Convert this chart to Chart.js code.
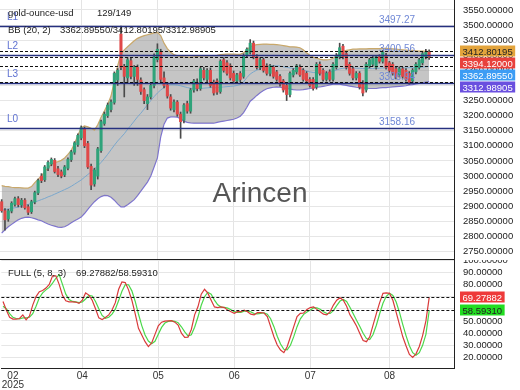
<!DOCTYPE html>
<html><head><meta charset="utf-8">
<script src="https://cdn.jsdelivr.net/npm/chart.js@4.4.1/dist/chart.umd.min.js"></script>
<style>
body{margin:0;background:#fff;width:520px;height:390px;overflow:hidden;position:relative;font-family:"Liberation Sans",Arial,sans-serif;}
#c1{position:absolute;left:0;top:0;}
#c2{position:absolute;left:0;top:260px;}
.t{position:absolute;font-size:9.5px;line-height:11px;color:#222;white-space:pre;}
#wm{position:absolute;left:0;width:520px;text-align:center;top:179px;font-size:28px;line-height:28px;color:#555;}
</style></head><body>
<canvas id="c1" width="520" height="260"></canvas>
<canvas id="c2" width="520" height="130"></canvas>
<div class="t" style="left:8px;top:7px">gold-ounce-usd</div>
<div class="t" style="left:97px;top:7px">129/149</div>
<div class="t" style="left:8px;top:24px">BB (20, 2)</div>
<div class="t" id="bbv" style="left:60px;top:24px"></div>
<div class="t" style="left:8px;top:267px">FULL (5, 8, 3)</div>
<div class="t" id="stv" style="left:76px;top:267px"></div>
<div id="wm">Arincen</div>
<script>
const SLOTS = 137;
const monthIdx = [3, 24, 47, 70, 93, 117];
const monthText = [['02','2025'], '04', '05', '06', '07', '08'];

const open = [2915,2885,2858,2884,2906,2925,2904,2920,2898,2882,
 2914,2944,3000,2988,3026,3040,3052,3024,3014,3004,
 3026,3054,3079,3104,3126,3156,3108,3032,2974,3000,
 3084,3174,3200,3220,3244,3318,3470,3362,3325,3382,
 3330,3360,3318,3286,3240,3262,3300,3386,3412,3325,
 3302,3262,3220,3245,3205,3185,3240,3215,3285,3310,
 3290,3350,3320,3350,3310,3315,3280,3385,3375,3365,
 3340,3315,3340,3330,3400,3410,3440,3395,3360,3385,
 3365,3340,3360,3345,3330,3315,3300,3270,3335,3345,
 3360,3350,3340,3320,3320,3295,3370,3350,3320,3345,
 3320,3360,3395,3430,3405,3370,3355,3325,3340,3310,
 3285,3365,3370,3360,3395,3380,3400,3375,3370,3355,
 3335,3355,3350,3340,3315,3345,3360,3375,3395,3410];
const high = [2922,2892,2890,2915,2930,2932,2926,2925,2905,2920,
 2950,2990,3008,3035,3050,3060,3058,3032,3020,3035,
 3060,3085,3114,3140,3166,3162,3115,3040,3026,3095,
 3185,3212,3242,3252,3345,3356,3497,3370,3392,3392,
 3366,3368,3325,3292,3270,3306,3405,3438,3420,3345,
 3310,3270,3252,3250,3212,3240,3248,3290,3320,3322,
 3362,3360,3356,3358,3318,3322,3385,3392,3382,3372,
 3348,3340,3346,3405,3425,3452,3447,3402,3392,3391,
 3372,3370,3366,3350,3336,3320,3306,3345,3356,3370,
 3368,3356,3346,3326,3326,3376,3378,3356,3346,3352,
 3376,3406,3440,3436,3412,3376,3362,3346,3346,3316,
 3376,3390,3396,3400,3402,3416,3406,3380,3376,3360,
 3362,3360,3356,3346,3356,3376,3390,3410,3420,3418];
const low = [2880,2821,2850,2878,2900,2898,2896,2890,2872,2876,
 2908,2938,2978,2982,3018,3034,3010,2998,2994,2998,
 3020,3048,3072,3098,3120,3094,3025,2955,2966,2990,
 3078,3168,3194,3212,3238,3300,3352,3262,3310,3322,
 3300,3300,3270,3240,3220,3255,3292,3378,3312,3292,
 3258,3218,3212,3198,3125,3176,3208,3208,3278,3282,
 3284,3318,3312,3294,3268,3270,3274,3344,3334,3318,
 3308,3306,3312,3324,3394,3404,3388,3354,3352,3344,
 3334,3332,3324,3314,3298,3278,3250,3262,3328,3338,
 3330,3314,3308,3294,3284,3288,3334,3314,3314,3314,
 3314,3354,3388,3388,3354,3334,3318,3318,3288,3265,
 3278,3358,3364,3354,3374,3374,3354,3344,3334,3322,
 3328,3324,3314,3304,3308,3338,3354,3368,3388,3386];
const close = [2885,2855,2885,2910,2925,2905,2920,2895,2880,2915,
 2945,2985,2985,3030,3045,3055,3015,3005,3000,3030,
 3055,3080,3110,3135,3160,3100,3030,2970,3020,3090,
 3180,3205,3235,3245,3340,3350,3360,3330,3385,3330,
 3360,3320,3280,3250,3262,3300,3395,3420,3320,3300,
 3265,3225,3245,3205,3180,3235,3215,3285,3315,3290,
 3355,3325,3350,3300,3275,3278,3380,3350,3340,3325,
 3315,3335,3320,3400,3420,3440,3395,3360,3385,3350,
 3340,3365,3330,3320,3305,3285,3270,3340,3350,3365,
 3335,3320,3315,3300,3290,3370,3340,3320,3340,3320,
 3370,3400,3425,3395,3360,3340,3325,3340,3295,3275,
 3370,3385,3390,3395,3380,3410,3360,3350,3340,3328,
 3355,3330,3320,3310,3350,3370,3385,3405,3410,3394.12];

const bbUpper = [2968,2966,2965,2963,2962,2962,2961,2960,2960,2965,
 2978,2990,3000,3015,3028,3038,3045,3048,3052,3060,
 3072,3085,3108,3135,3160,3166,3163,3158,3152,3170,
 3195,3215,3238,3265,3315,3365,3405,3418,3428,3438,
 3448,3456,3461,3465,3468,3471,3474,3476,3465,3440,
 3422,3410,3402,3398,3396,3395,3394,3394,3395,3396,
 3397,3398,3398,3399,3399,3400,3402,3403,3404,3404,
 3404,3403,3403,3408,3418,3428,3433,3435,3436,3437,
 3437,3436,3436,3435,3434,3432,3430,3428,3428,3427,
 3425,3418,3408,3400,3394,3390,3387,3385,3385,3386,
 3390,3398,3406,3412,3416,3418,3420,3420,3421,3421,
 3421,3422,3422,3422,3422,3423,3423,3422,3421,3420,
 3419,3418,3417,3416,3416,3415,3414,3414,3413,3412.80195];
const bbMid = [2887,2889,2891,2893,2895,2897,2900,2903,2906,2910,
 2914,2918,2922,2926,2931,2935,2940,2945,2950,2955,
 2960,2966,2973,2980,2987,2996,3005,3014,3024,3034,
 3045,3058,3072,3087,3102,3116,3128,3140,3155,3168,
 3182,3196,3208,3222,3236,3250,3263,3275,3285,3293,
 3300,3302,3302,3301,3299,3296,3293,3291,3290,3290,
 3290,3291,3292,3293,3292,3293,3294,3295,3296,3297,
 3298,3300,3303,3312,3326,3338,3345,3351,3356,3360,
 3363,3364,3365,3365,3364,3362,3360,3358,3357,3356,
 3355,3352,3348,3345,3343,3342,3341,3341,3342,3344,
 3347,3351,3355,3357,3358,3358,3358,3357,3357,3356,
 3356,3356,3356,3356,3357,3358,3358,3358,3358,3358,
 3358,3358,3358,3359,3359,3360,3361,3361,3362,3362.8955];
const bbLower = [2811,2822,2832,2840,2848,2855,2860,2863,2864,2862,
 2859,2855,2852,2846,2841,2837,2834,2831,2830,2832,
 2838,2845,2852,2858,2864,2876,2890,2903,2915,2925,
 2932,2936,2935,2930,2920,2908,2898,2898,2905,2913,
 2922,2935,2950,2965,2980,3000,3030,3060,3130,3172,
 3192,3196,3196,3195,3190,3182,3178,3176,3175,3175,
 3175,3175,3175,3175,3175,3178,3180,3182,3184,3186,
 3188,3192,3198,3210,3228,3248,3257,3267,3276,3283,
 3289,3292,3294,3295,3294,3292,3290,3288,3286,3285,
 3285,3286,3288,3290,3292,3294,3295,3297,3299,3302,
 3304,3304,3304,3302,3300,3298,3296,3294,3293,3291,
 3291,3290,3290,3290,3292,3293,3293,3294,3295,3296,
 3297,3298,3299,3302,3303,3305,3307,3309,3311,3312.98905];

const stochK = [66,59,53,51.5,51.5,52,55,51,54,63,
 70,74,75,77,80,87,87,80,71,66.5,
 65.7,65.7,65.5,64.4,67,73,71.2,67,60,52.5,
 51.2,52.8,55,59,65,76,82,81.5,75.5,67,
 56,44,38.5,33,29,32,39,46,49,49.8,
 50,50.2,49,46.6,40,36.5,36.6,43,55,61.6,
 72,76,72.8,67,61.5,61,61.6,61,58.9,57.6,
 56.2,57.6,57.6,58.9,57.6,55.6,55,56.8,56.8,56.5,
 53.5,45.3,37,30.2,26.1,24,28.9,37,45.3,53.5,
 56.2,56.5,59.5,61,61.6,59.5,57.6,55.6,55,57.6,
 63,67,69,67,62,55,50.7,45.8,39.8,34,
 33,37,46.6,56,65,72.6,73,72.6,67,57,
 47,37,29.5,22.5,20,23,29,38,50,69.27882];
const stochD = [62,60,56,53,52,51.6,52.5,52.5,53,56,
 62,69,73,75.5,77.5,81,85,88,80,72,
 67.5,66,65.6,65,65.5,68,71,70.5,66,60,
 54.5,52.2,53,55.6,59.7,66.7,74.3,79.8,79.7,74.7,
 66.2,55.7,46.2,38.5,33.5,31.3,33.3,39,44.7,48.3,
 49.6,50,49.7,48.6,45.2,41,37.7,38.7,44.9,53.2,
 62.9,69.9,73.6,71.9,67.1,63.2,61.4,61.2,60.5,59.2,
 57.6,57.1,57.1,58,58,57.4,56.1,55.8,56.2,56.7,
 55.6,51.8,45.3,37.5,31.1,26.8,26.3,30,37.1,45.3,
 51.7,55.4,57.4,59,60.7,60.7,59.6,57.6,56.1,56.1,
 58.5,62.5,66.3,67.7,66,61.3,55.9,50.5,45.4,39.9,
 35.6,34.7,38.9,46.5,55.9,64.5,70.2,72.7,70.9,65.5,
 57,47,37.8,29.7,24,21.8,24,30,39,58.5931];

const levelNames = ['L1', 'L2', 'L3', 'L0'];
const levelValues = [3497.27, 3400.56, 3306.94, 3158.16];
const priceTicks = [2750,2800,2850,2900,2950,3000,3050,3100,3150,3200,3250,3300,3350,3400,3450,3500,3550];
const oscTicks = [20,30,40,50,60,70,80,90,100];

const FONT = '"Liberation Sans", Arial, sans-serif';
const N = close.length;
const last = N - 1;

document.getElementById('bbv').textContent =
  bbMid[last].toFixed(5) + '/' + bbUpper[last].toFixed(5) + '/' + bbLower[last].toFixed(5);
document.getElementById('stv').textContent =
  stochK[last].toFixed(5) + '/' + stochD[last].toFixed(5);

const labels = [];
for (let i = 0; i < SLOTS; i++) labels.push('');
monthIdx.forEach((ix, k) => { labels[ix] = monthText[k]; });

const wicks = low.map((l, i) => [l, high[i]]);
const bodies = open.map((o, i) => [Math.min(o, close[i]), Math.max(o, close[i])]);
const bodyColors = open.map((o, i) => close[i] >= o ? '#2fa37a' : '#e04848');

const gridX = (ctx) => {
  const k = monthIdx.indexOf(ctx.index);
  return k > 0 ? '#e4e4e4' : 'rgba(0,0,0,0)';
};

function tagsPlugin(items) {
  return {
    id: 'tags',
    afterDraw(chart) {
      const ys = chart.scales.y, ctx = chart.ctx;
      const list = items.map(it => Object.assign({}, it, { py: ys.getPixelForValue(it.v) }))
        .sort((a, b) => a.py - b.py);
      let prev = -1e9;
      list.forEach(it => { if (it.py < prev + 12) it.py = prev + 12; prev = it.py; });
      ctx.save();
      ctx.font = '9.5px ' + FONT;
      ctx.textBaseline = 'middle';
      list.forEach(it => {
        const txt = it.v.toFixed(5);
        const w = ctx.measureText(txt).width;
        ctx.fillStyle = it.bg;
        ctx.fillRect(460, Math.round(it.py) - 5.5, w + 5, 11);
        ctx.fillStyle = it.fg;
        ctx.fillText(txt, 462.5, it.py + 0.5);
      });
      ctx.restore();
    }
  };
}

function linesPlugin(dashVals, withLevels, drawBottom) {
  return {
    id: 'hlines',
    afterDatasetsDraw(chart) {
      const ys = chart.scales.y, ctx = chart.ctx, a = chart.chartArea;
      ctx.save();
      if (withLevels) {
        levelValues.forEach((v, k) => {
          const py = Math.round(ys.getPixelForValue(v)) + 0.5;
          ctx.strokeStyle = '#26307f';
          ctx.lineWidth = 1.3;
          ctx.setLineDash([]);
          ctx.beginPath(); ctx.moveTo(a.left, py); ctx.lineTo(a.right, py); ctx.stroke();
          ctx.font = '10px ' + FONT;
          ctx.textBaseline = 'middle';
          ctx.fillStyle = '#5f72d2';
          ctx.textAlign = 'left';
          ctx.fillText(levelNames[k], 7, py - 9);
          ctx.fillStyle = '#7088d6';
          ctx.textAlign = 'center';
          ctx.fillText(v.toFixed(2), 397, py - 6);
        });
      }
      ctx.strokeStyle = '#111';
      ctx.lineWidth = 1;
      ctx.setLineDash([3, 2]);
      dashVals.forEach(v => {
        const py = Math.round(ys.getPixelForValue(v)) + 0.5;
        ctx.beginPath(); ctx.moveTo(a.left, py); ctx.lineTo(a.right, py); ctx.stroke();
      });
      ctx.setLineDash([]);
      if (drawBottom) {
        ctx.strokeStyle = '#222';
        ctx.beginPath(); ctx.moveTo(a.left, a.bottom - 0.5); ctx.lineTo(a.right, a.bottom - 0.5); ctx.stroke();
      }
      ctx.restore();
    }
  };
}

const yFit = (s) => { s.width = 66; s.paddingTop = 0; s.paddingBottom = 0; };

new Chart(document.getElementById('c1'), {
  type: 'bar',
  data: {
    labels: labels,
    datasets: [
      { type: 'line', data: bbUpper, borderColor: '#c9a86a', borderWidth: 1.2, pointRadius: 0,
        fill: '+1', backgroundColor: 'rgba(140,140,140,0.5)', order: 5 },
      { type: 'line', data: bbLower, borderColor: '#7b6fe0', borderWidth: 1.2, pointRadius: 0,
        fill: false, order: 5 },
      { type: 'line', data: bbMid, borderColor: '#7aa7cc', borderWidth: 1, pointRadius: 0,
        fill: false, order: 4 },
      { type: 'bar', data: wicks, backgroundColor: '#4a4a4a', barThickness: 1, grouped: false, order: 2 },
      { type: 'bar', data: bodies, backgroundColor: bodyColors, barThickness: 2.4, grouped: false, order: 1 }
    ]
  },
  options: {
    responsive: false, animation: false, devicePixelRatio: 1,
    layout: { padding: 0 },
    plugins: { legend: { display: false }, tooltip: { enabled: false } },
    scales: {
      x: { type: 'category', offset: true, ticks: { display: false },
           grid: { offset: false, drawTicks: false, color: gridX }, border: { display: false } },
      y: { position: 'right', min: 2722, max: 3583,
           afterBuildTicks: (s) => { s.ticks = priceTicks.map(v => ({ value: v })); },
           afterFit: yFit,
           ticks: { autoSkip: false, padding: 9, color: '#222', font: { size: 9.5, family: FONT }, callback: (v) => Number(v).toFixed(5) },
           grid: { color: '#e6e6e6', drawTicks: false }, border: { display: true, color: '#222' } }
    }
  },
  plugins: [
    linesPlugin([bbUpper[last], close[last], bbMid[last], bbLower[last]], true, true),
    tagsPlugin([
      { v: bbUpper[last], bg: '#e3a43c', fg: '#222' },
      { v: close[last], bg: '#e8413c', fg: '#fff' },
      { v: bbMid[last], bg: '#3c9cf4', fg: '#fff' },
      { v: bbLower[last], bg: '#6a4fdf', fg: '#fff' }
    ])
  ]
});

new Chart(document.getElementById('c2'), {
  type: 'line',
  data: {
    labels: labels,
    datasets: [
      { data: stochD, borderColor: '#4ad84a', borderWidth: 1.2, pointRadius: 0, fill: false, order: 2 },
      { data: stochK, borderColor: '#d83a3a', borderWidth: 1.2, pointRadius: 0, fill: false, order: 1 }
    ]
  },
  options: {
    responsive: false, animation: false, devicePixelRatio: 1,
    layout: { padding: 0 },
    plugins: { legend: { display: false }, tooltip: { enabled: false } },
    scales: {
      x: { type: 'category', offset: true,
           afterFit: (s) => { s.height = 22; },
           ticks: { autoSkip: false, maxRotation: 0, padding: 3, color: '#333',
                    font: { size: 10, family: FONT, lineHeight: 0.95 } },
           grid: { offset: false, drawTicks: false, color: gridX }, border: { display: true, color: '#222' } },
      y: { position: 'right', min: 11.4, max: 100,
           afterBuildTicks: (s) => { s.ticks = oscTicks.map(v => ({ value: v })); },
           afterFit: yFit,
           ticks: { autoSkip: false, padding: 9, color: '#222', font: { size: 9.5, family: FONT }, callback: (v) => Number(v).toFixed(5) },
           grid: { color: '#e6e6e6', drawTicks: false }, border: { display: true, color: '#222' } }
    }
  },
  plugins: [
    linesPlugin([stochK[last], stochD[last]], false, false),
    tagsPlugin([
      { v: stochK[last], bg: '#ee3a3a', fg: '#fff' },
      { v: stochD[last], bg: '#22dd22', fg: '#222' }
    ])
  ]
});
</script>
</body></html>
